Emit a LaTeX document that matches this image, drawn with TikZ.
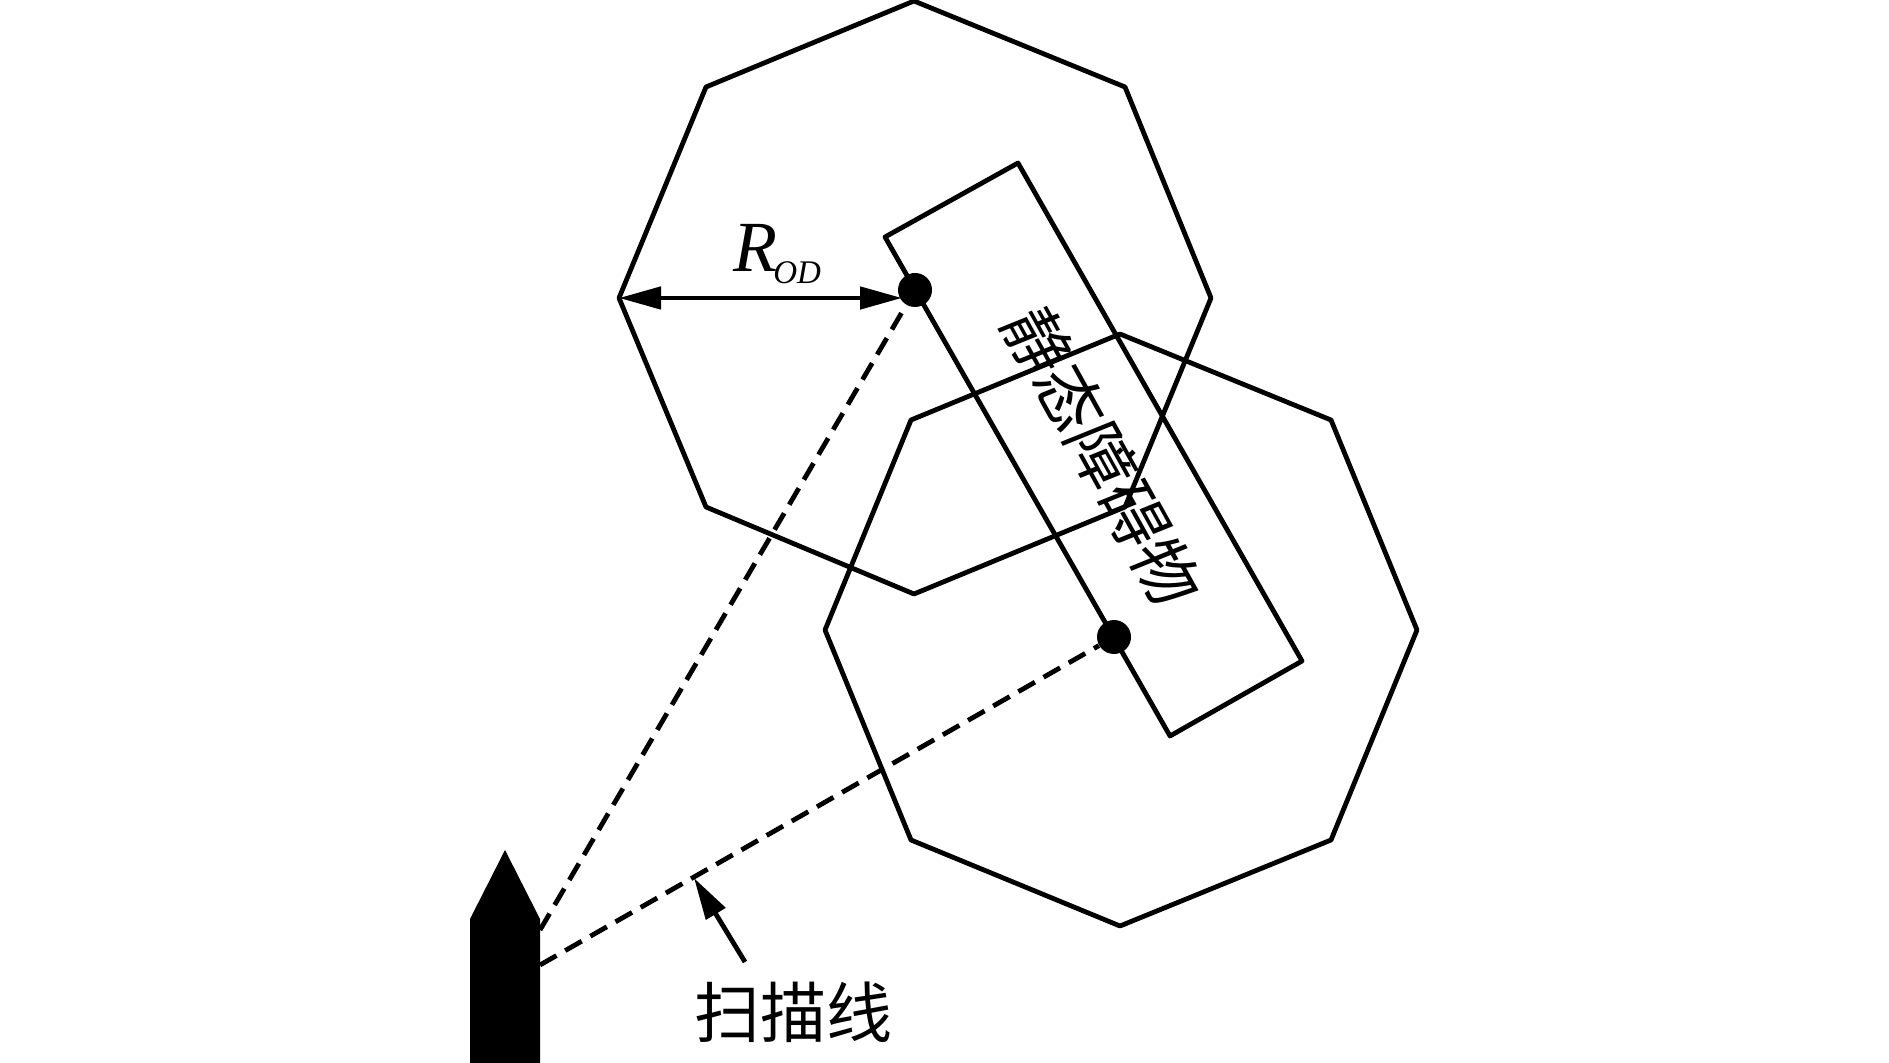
\documentclass[tikz,border=0pt]{standalone}
\usepackage{fontspec}
\usetikzlibrary{arrows.meta}
\setmainfont{Liberation Serif}
\newfontfamily\cjk{Noto Sans CJK SC}
\tikzset{
  outline/.style={draw=black,line width=2.4pt,line join=round},
  scanline/.style={draw=black,line width=2.4pt,dash pattern=on 9.5pt off 5pt},
  dotmark/.style={circle,fill=black,draw=none,minimum size=17pt,inner sep=0pt},
  tiplarge/.style={-{Triangle[length=21pt,width=11pt]}},
  tipboth/.style={{Triangle[length=21pt,width=11pt]}-{Triangle[length=21pt,width=11pt]}},
  cjklabel/.style={font=\cjk\fontsize{33pt}{33pt}\selectfont,inner sep=0pt}
}
\begin{document}
\begin{tikzpicture}[x=0.5pt,y=-0.5pt]
\useasboundingbox (0,0) rectangle (1889,1063);
% octagons
\draw[outline] (914,1) -- (1125,87) -- (1211,298) -- (1125,507) -- (914,594) -- (706,507) -- (619,298) -- (706,87) -- cycle;
\draw[outline] (1120,334) -- (1331,420) -- (1417,630) -- (1331,840) -- (1120,926) -- (911,840) -- (825,630) -- (911,420) -- cycle;
% obstacle rectangle
\draw[outline] (1018,163) -- (1302,661) -- (1170,736) -- (885,237) -- cycle;
% dots
\node[dotmark] (dotA) at (915,290) {};
\node[dotmark] (dotB) at (1114,637) {};
% ship
\coordinate (shipA) at (540,930);
\coordinate (shipB) at (540,965);
\draw[scanline] (shipA) -- (dotA);
\draw[scanline] (shipB) -- (dotB);
\fill[black] (470,1063) -- (470,919) -- (505,850) -- (540,919) -- (540,1063) -- cycle;
% radius
\coordinate (radL) at (619,298);
\coordinate (radR) at (902,298);
\draw[tipboth,line width=2.4pt] (radL) -- (radR);
\node[anchor=base west,inner sep=0pt,font=\fontsize{36pt}{36pt}\selectfont\itshape] (rlabel) at (733,272) {R};
\node[anchor=base west,inner sep=0pt,font=\fontsize{16.5pt}{16.5pt}\selectfont\itshape] (odlabel) at (773,284) {OD};
% scan label
\coordinate (scanTip) at (694,878);
\node[cjklabel] (scanlabel) at (793,1012) {扫描线};
\coordinate (scanTail) at (745,962);
\draw[tiplarge,line width=2.4pt] (scanTail) -- (scanTip);
% rotated text
\node[cjklabel,cm={0.485,-0.875,0.927,0.375,(0,0)}] (obstacle) at (1103,456) {静态障碍物};
\end{tikzpicture}
\end{document}
